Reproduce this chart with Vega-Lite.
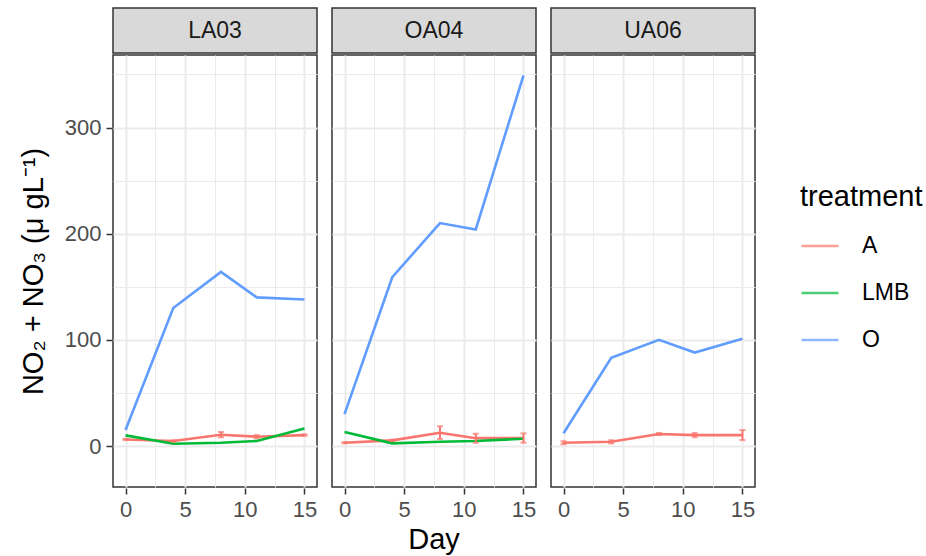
{
  "$schema": "https://vega.github.io/schema/vega-lite/v6.json",
  "background": "white",
  "padding": {"left": 19, "top": 7, "right": 5, "bottom": 5},
  "spacing": 0,
  "datasets": {
    "sites": [{"site": "LA03"}, {"site": "OA04"}, {"site": "UA06"}],
    "nitrate": [
      {"site": "LA03", "treatment": "A", "day": 0, "value": 6.2, "lo": 5.6, "hi": 6.8},
      {"site": "LA03", "treatment": "A", "day": 4, "value": 4.7, "lo": 4.0, "hi": 5.4},
      {"site": "LA03", "treatment": "A", "day": 8, "value": 10.6, "lo": 8.2, "hi": 13.2},
      {"site": "LA03", "treatment": "A", "day": 11, "value": 8.8, "lo": 7.3, "hi": 10.3},
      {"site": "LA03", "treatment": "A", "day": 15, "value": 10.3, "lo": 9.6, "hi": 11.0},
      {"site": "LA03", "treatment": "LMB", "day": 0, "value": 10.0},
      {"site": "LA03", "treatment": "LMB", "day": 4, "value": 2.2},
      {"site": "LA03", "treatment": "LMB", "day": 8, "value": 3.1},
      {"site": "LA03", "treatment": "LMB", "day": 11, "value": 4.7},
      {"site": "LA03", "treatment": "LMB", "day": 15, "value": 16.6},
      {"site": "LA03", "treatment": "O", "day": 0, "value": 15},
      {"site": "LA03", "treatment": "O", "day": 4, "value": 130},
      {"site": "LA03", "treatment": "O", "day": 8, "value": 164},
      {"site": "LA03", "treatment": "O", "day": 11, "value": 140},
      {"site": "LA03", "treatment": "O", "day": 15, "value": 138},
      {"site": "OA04", "treatment": "A", "day": 0, "value": 3.1, "lo": 2.5, "hi": 3.7},
      {"site": "OA04", "treatment": "A", "day": 4, "value": 5.3, "lo": 4.6, "hi": 6.0},
      {"site": "OA04", "treatment": "A", "day": 8, "value": 12.5, "lo": 6.6, "hi": 18.6},
      {"site": "OA04", "treatment": "A", "day": 11, "value": 7.4, "lo": 3.1, "hi": 11.6},
      {"site": "OA04", "treatment": "A", "day": 15, "value": 7.5, "lo": 3.1, "hi": 11.9},
      {"site": "OA04", "treatment": "LMB", "day": 0, "value": 13.2},
      {"site": "OA04", "treatment": "LMB", "day": 4, "value": 2.5},
      {"site": "OA04", "treatment": "LMB", "day": 8, "value": 4.0},
      {"site": "OA04", "treatment": "LMB", "day": 11, "value": 4.7},
      {"site": "OA04", "treatment": "LMB", "day": 15, "value": 6.9},
      {"site": "OA04", "treatment": "O", "day": 0, "value": 30},
      {"site": "OA04", "treatment": "O", "day": 4, "value": 159},
      {"site": "OA04", "treatment": "O", "day": 8, "value": 210},
      {"site": "OA04", "treatment": "O", "day": 11, "value": 204},
      {"site": "OA04", "treatment": "O", "day": 15, "value": 349},
      {"site": "UA06", "treatment": "A", "day": 0, "value": 3.1, "lo": 1.7, "hi": 4.5},
      {"site": "UA06", "treatment": "A", "day": 4, "value": 4.0, "lo": 2.5, "hi": 5.5},
      {"site": "UA06", "treatment": "A", "day": 8, "value": 11.3, "lo": 10.3, "hi": 12.3},
      {"site": "UA06", "treatment": "A", "day": 11, "value": 10.3, "lo": 8.3, "hi": 12.3},
      {"site": "UA06", "treatment": "A", "day": 15, "value": 10.3, "lo": 5.6, "hi": 15.0},
      {"site": "UA06", "treatment": "O", "day": 0, "value": 12},
      {"site": "UA06", "treatment": "O", "day": 4, "value": 83},
      {"site": "UA06", "treatment": "O", "day": 8, "value": 100},
      {"site": "UA06", "treatment": "O", "day": 11, "value": 88},
      {"site": "UA06", "treatment": "O", "day": 15, "value": 101}
    ]
  },
  "vconcat": [
    {
      "data": {"name": "sites"},
      "facet": {
        "column": {"field": "site", "type": "nominal", "header": {"labels": false, "title": null}}
      },
      "spacing": 13,
      "spec": {
        "width": 204,
        "height": 45,
        "view": {"fill": "#D9D9D9", "stroke": "#333333", "strokeWidth": 1.5},
        "mark": {"type": "text", "fontSize": 23, "color": "#1A1A1A"},
        "encoding": {"text": {"field": "site", "type": "nominal"}}
      }
    },
    {
      "data": {"name": "nitrate"},
      "facet": {
        "column": {
          "field": "site",
          "type": "nominal",
          "title": "Day",
          "header": {
            "labels": false,
            "titleOrient": "bottom",
            "titleFontSize": 29,
            "titleFontWeight": "normal",
            "titleColor": "#000000",
            "titlePadding": -4
          }
        }
      },
      "spacing": 13,
      "spec": {
        "width": 204,
        "height": 432,
        "encoding": {
          "x": {
            "field": "day",
            "type": "quantitative",
            "scale": {"domain": [-1.05, 16.05], "nice": false, "zero": false},
            "axis": {
              "title": null,
              "values": [0, 2.5, 5, 7.5, 10, 12.5, 15],
              "labelExpr": "datum.value % 5 === 0 ? datum.label : ''",
              "labelOverlap": false,
              "gridWidth": {"condition": {"test": "datum.value % 5 === 0", "value": 2}, "value": 1},
              "tickOpacity": {"condition": {"test": "datum.value % 5 === 0", "value": 1}, "value": 0}
            }
          },
          "color": {
            "field": "treatment",
            "type": "nominal",
            "scale": {"domain": ["A", "LMB", "O"], "range": ["#F8766D", "#00BA38", "#619CFF"]},
            "legend": {"title": "treatment"}
          }
        },
        "layer": [
          {
            "mark": {"type": "line", "strokeWidth": 2.6},
            "encoding": {
              "y": {
                "field": "value",
                "type": "quantitative",
                "scale": {"domain": [-38.6, 368.3], "nice": false, "zero": false},
                "axis": {
                  "title": "NO₂ + NO₃ (μ gL⁻¹)",
                  "values": [0, 50, 100, 150, 200, 250, 300, 350],
                  "labelExpr": "datum.value % 100 === 0 ? datum.label : ''",
                  "labelOverlap": false,
                  "gridWidth": {"condition": {"test": "datum.value % 100 === 0", "value": 2}, "value": 1},
                  "tickOpacity": {"condition": {"test": "datum.value % 100 === 0", "value": 1}, "value": 0}
                }
              }
            }
          },
          {
            "transform": [{"filter": "datum.lo != null"}],
            "mark": {"type": "rule", "strokeWidth": 2},
            "encoding": {
              "y": {"field": "lo", "type": "quantitative"},
              "y2": {"field": "hi"}
            }
          },
          {
            "transform": [{"filter": "datum.lo != null"}],
            "mark": {"type": "tick", "orient": "horizontal", "size": 6, "thickness": 2},
            "encoding": {"y": {"field": "lo", "type": "quantitative"}}
          },
          {
            "transform": [{"filter": "datum.lo != null"}],
            "mark": {"type": "tick", "orient": "horizontal", "size": 6, "thickness": 2},
            "encoding": {"y": {"field": "hi", "type": "quantitative"}}
          }
        ]
      }
    }
  ],
  "config": {
    "font": "Liberation Sans",
    "view": {"stroke": "#333333", "strokeWidth": 1.5},
    "axis": {
      "domain": false,
      "gridColor": "#EBEBEB",
      "tickColor": "#333333",
      "tickSize": 6,
      "tickWidth": 1.5,
      "labelColor": "#4D4D4D",
      "labelFontSize": 22,
      "labelPadding": 5,
      "titleFontSize": 29,
      "titleFontWeight": "normal",
      "titleColor": "#000000",
      "titlePadding": 16
    },
    "legend": {
      "orient": "none",
      "legendX": 687,
      "legendY": 175,
      "titleFontSize": 29,
      "titleFontWeight": "normal",
      "titleColor": "#000000",
      "titlePadding": 14,
      "labelFontSize": 23,
      "labelColor": "#000000",
      "labelOffset": 22,
      "symbolType": "stroke",
      "symbolSize": 1369,
      "symbolStrokeWidth": 2.6,
      "rowPadding": 15
    }
  }
}
